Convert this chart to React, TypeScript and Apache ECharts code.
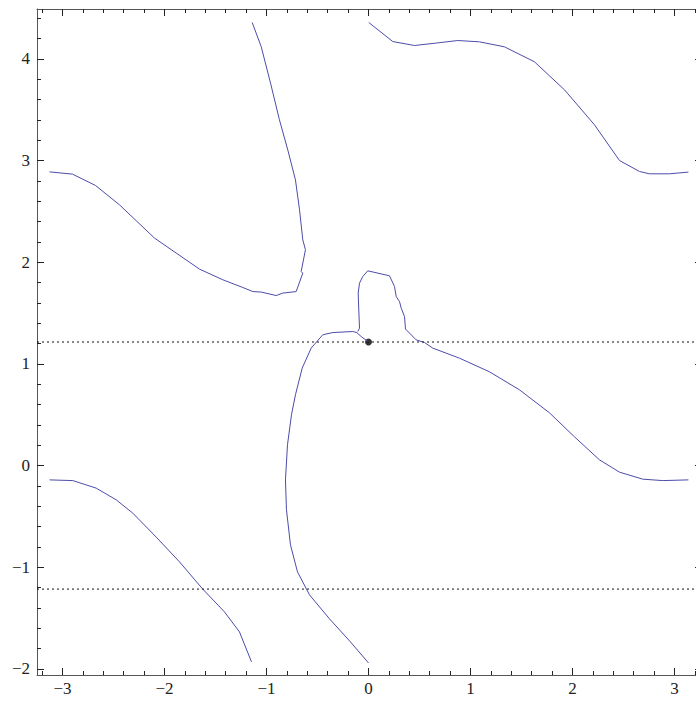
import React, { useEffect, useRef } from "react";
import * as echarts from "echarts";

const X_MIN = -3.25;
const X_MAX = 3.27;
const Y_MIN = -2.06;
const Y_MAX = 4.49;

const xMajor = [-3, -2, -1, 0, 1, 2, 3];
const yMajor = [-2, -1, 0, 1, 2, 3, 4];
const xMinor = [-3.2, -3, -2.8, -2.6, -2.4, -2.2, -2, -1.8, -1.6, -1.4, -1.2, -1, -0.8, -0.6, -0.4, -0.2, 0, 0.2, 0.4, 0.6, 0.8, 1, 1.2, 1.4, 1.6, 1.8, 2, 2.2, 2.4, 2.6, 2.8, 3, 3.2];
const yMinor = [-2, -1.8, -1.6, -1.4, -1.2, -1, -0.8, -0.6, -0.4, -0.2, 0, 0.2, 0.4, 0.6, 0.8, 1, 1.2, 1.4, 1.6, 1.8, 2, 2.2, 2.4, 2.6, 2.8, 3, 3.2, 3.4, 3.6, 3.8, 4, 4.2, 4.4];

const curveTopLeft = [
  [-3.127, 2.888], [-2.902, 2.866], [-2.676, 2.754], [-2.441, 2.564], [-2.098, 2.237],
  [-1.657, 1.932], [-1.428, 1.827], [-1.232, 1.751], [-1.134, 1.711], [-1.052, 1.706],
  [-0.905, 1.672], [-0.84, 1.696], [-0.709, 1.711], [-0.644, 1.892], [-0.66, 1.908],
  [-0.618, 2.122], [-0.644, 2.22], [-0.676, 2.515], [-0.716, 2.81], [-0.79, 3.1],
  [-0.873, 3.4], [-0.96, 3.76], [-1.052, 4.12], [-1.14, 4.357],
];

const curveTopRight = [
  [0.003, 4.357], [0.238, 4.17], [0.451, 4.131], [0.664, 4.155], [0.875, 4.18],
  [1.088, 4.167], [1.333, 4.118], [1.627, 3.971], [1.922, 3.695], [2.216, 3.351],
  [2.461, 3.0], [2.657, 2.892], [2.755, 2.869], [2.951, 2.869], [3.137, 2.886],
];

const curveBottomCenter = [
  [0, -1.941], [-0.186, -1.724], [-0.382, -1.508], [-0.578, -1.272], [-0.696, -1.046],
  [-0.765, -0.78], [-0.804, -0.436], [-0.814, -0.141], [-0.794, 0.204], [-0.755, 0.499],
  [-0.716, 0.695], [-0.65, 0.958], [-0.562, 1.155], [-0.448, 1.286], [-0.35, 1.308],
  [-0.154, 1.318], [-0.115, 1.308], [-0.072, 1.269], [0, 1.215],
];

const curveLoopRight = [
  [-0.105, 1.318], [-0.088, 1.351], [-0.095, 1.531], [-0.101, 1.696], [-0.088, 1.794],
  [-0.056, 1.859], [-0.007, 1.915], [0.206, 1.866], [0.255, 1.761], [0.272, 1.662],
  [0.304, 1.613], [0.321, 1.548], [0.353, 1.466], [0.363, 1.342], [0.468, 1.236],
  [0.549, 1.21], [0.63, 1.155], [0.892, 1.056], [1.186, 0.922], [1.48, 0.745],
  [1.775, 0.518], [2.02, 0.282], [2.265, 0.056], [2.461, -0.065], [2.689, -0.134],
  [2.885, -0.148], [3.137, -0.141],
];

const curveBottomLeft = [
  [-3.127, -0.141], [-2.899, -0.148], [-2.67, -0.222], [-2.474, -0.337], [-2.311, -0.468],
  [-2.081, -0.704], [-1.853, -0.947], [-1.627, -1.213], [-1.412, -1.439], [-1.265, -1.636],
  [-1.147, -1.931],
];

const levelValues = [1.215, -1.215];
const criticalPoint = [[0, 1.215]];

const LINE_COLOR = "#4c4caa";
const FONT = "Liberation Serif";
const FONT_SIZE = 17;

const fmt = (v: number) => (v < 0 ? "\u2212" + Math.abs(v) : String(v));

export default function App() {
  const ref = useRef<HTMLDivElement>(null);

  useEffect(() => {
    if (!ref.current) return;
    const chart = echarts.init(ref.current, undefined, { renderer: "svg" });
    const gridRect = { left: 37, top: 9, width: 665, height: 666 };
    const grids = [0, 1, 2, 3].map(() => ({ ...gridRect, containLabel: false, outerBoundsMode: "none" }));

    const labelStyle = (show: boolean, vals: number[], margin: number) => ({
      show,
      customValues: vals,
      formatter: fmt,
      fontFamily: FONT,
      fontSize: FONT_SIZE,
      fontWeight: "normal",
      color: "#222",
      margin,
      textStyle: { fontFamily: FONT, fontSize: FONT_SIZE, color: "#222" },
    });

    const mkX = (gi: number, pos: string, vals: number[], len: number, labels: boolean, line: boolean) => ({
      type: "value",
      gridIndex: gi,
      position: pos,
      min: X_MIN,
      max: X_MAX,
      axisLine: { show: line, onZero: false, lineStyle: { color: "#555", width: 1 } },
      axisTick: { show: true, inside: true, length: len, customValues: vals, lineStyle: { color: "#222", width: 1 } },
      axisLabel: labelStyle(labels, vals, 5),
      splitLine: { show: false },
    });
    const mkY = (gi: number, pos: string, vals: number[], len: number, labels: boolean, line: boolean) => ({
      type: "value",
      gridIndex: gi,
      position: pos,
      min: Y_MIN,
      max: Y_MAX,
      axisLine: { show: line, onZero: false, lineStyle: { color: "#555", width: 1 } },
      axisTick: { show: true, inside: true, length: len, customValues: vals, lineStyle: { color: "#222", width: 1 } },
      axisLabel: labelStyle(labels, vals, 7),
      splitLine: { show: false },
    });

    const curveSeries = [curveTopLeft, curveTopRight, curveBottomCenter, curveLoopRight, curveBottomLeft].map((d) => ({
      type: "line",
      xAxisIndex: 0,
      yAxisIndex: 0,
      data: d,
      showSymbol: false,
      symbol: "none",
      smooth: false,
      clip: true,
      lineStyle: { color: LINE_COLOR, width: 1 },
      silent: true,
    }));

    const levelSeries = levelValues.map((v) => ({
      type: "line",
      xAxisIndex: 0,
      yAxisIndex: 0,
      data: [[X_MIN, v], [X_MAX, v]],
      showSymbol: false,
      symbol: "none",
      lineStyle: { color: "#111", width: 1, type: [2, 3] },
      silent: true,
    }));

    chart.setOption({
      animation: false,
      backgroundColor: "#fff",
      textStyle: { fontFamily: FONT, fontSize: FONT_SIZE },
      grid: grids,
      xAxis: [
        mkX(0, "bottom", xMajor, 7, true, true),
        mkX(1, "top", xMajor, 7, false, true),
        mkX(2, "bottom", xMinor, 4, false, false),
        mkX(3, "top", xMinor, 4, false, false),
      ],
      yAxis: [
        mkY(0, "left", yMajor, 7, true, true),
        mkY(1, "right", yMajor, 7, false, true),
        mkY(2, "left", yMinor, 4, false, false),
        mkY(3, "right", yMinor, 4, false, false),
      ],
      series: [
        ...curveSeries,
        ...levelSeries,
        {
          type: "scatter",
          xAxisIndex: 0,
          yAxisIndex: 0,
          data: criticalPoint,
          symbol: "circle",
          symbolSize: 7,
          itemStyle: { color: "#000" },
          silent: true,
        },
        { type: "line", xAxisIndex: 1, yAxisIndex: 1, data: [], silent: true },
        { type: "line", xAxisIndex: 2, yAxisIndex: 2, data: [], silent: true },
        { type: "line", xAxisIndex: 3, yAxisIndex: 3, data: [], silent: true },
      ],
    });
    return () => chart.dispose();
  }, []);

  return (
    <div
      ref={ref}
      style={{ position: "fixed", left: 0, top: 0, width: 696, height: 701, background: "#fff" }}
    />
  );
}
